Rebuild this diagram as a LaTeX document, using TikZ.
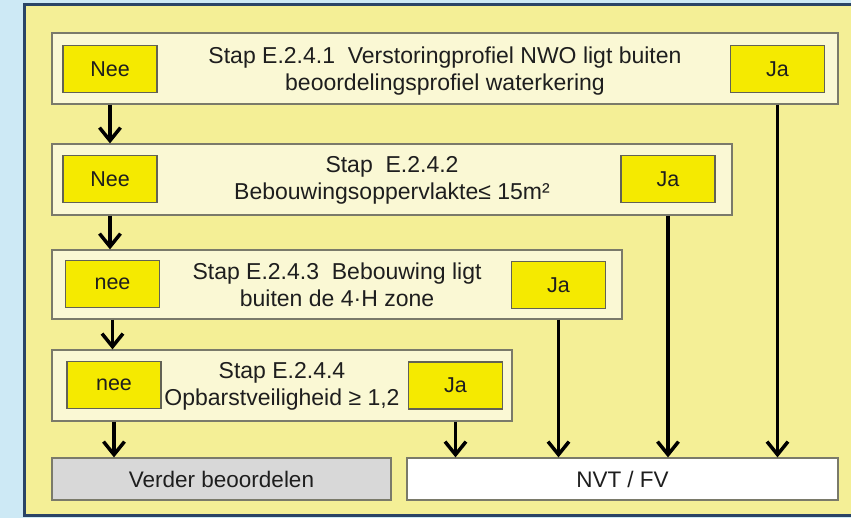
\documentclass[tikz,border=0pt]{standalone}
\usepackage{fontspec}
\setmainfont{Liberation Sans}
\usetikzlibrary{arrows.meta}
\definecolor{bgblue}{HTML}{CDE9F5}
\definecolor{frameblue}{HTML}{2A4466}
\definecolor{bgyellow}{HTML}{F4EF96}
\definecolor{cream}{HTML}{FAF8D4}
\definecolor{btnyellow}{HTML}{F5EA00}
\definecolor{boxgray}{HTML}{D8D8D8}
\definecolor{edgegray}{HTML}{7A7A6A}
\definecolor{txt}{HTML}{1E1E1E}
\tikzset{
  stepbox/.style={draw=edgegray, line width=1.2pt, fill=cream, minimum height=71pt, inner sep=0pt},
  steptext/.style={align=center, text=txt, font=\fontsize{23}{27}\selectfont, inner sep=0pt},
  btn/.style={draw=edgegray!80!black, line width=1.2pt, fill=btnyellow, minimum width=94pt,
    minimum height=47pt, text=txt, font=\fontsize{21.5}{24}\selectfont, inner sep=0pt},
  endbox/.style={draw=edgegray, line width=1.2pt, minimum height=42pt, text=txt,
    font=\fontsize{22.5}{26}\selectfont, inner sep=0pt},
  flow/.style={line width=3.5pt, black, -{Straight Barb[length=13pt,width=21pt,line width=3.5pt]}}
}
\begin{document}
\begin{tikzpicture}[x=1pt,y=-1pt]
\useasboundingbox (0,0) rectangle (851,518);
\fill[bgblue] (0,0) rectangle (851,518);
\filldraw[fill=bgyellow, draw=frameblue, line width=3pt] (24.5,4.5) rectangle (860,515.5);
% step boxes
\node[stepbox, minimum width=786pt] (box1) at (445,68.5) {};
\node[stepbox, minimum width=680pt] (box2) at (392,179.5) {};
\node[stepbox, minimum width=570pt, minimum height=69pt] (box3) at (337,284.5) {};
\node[stepbox, minimum width=460pt] (box4) at (282,385.5) {};
\node[steptext] (t1) at ([yshift=-2.5pt]box1.center) {Stap E.2.4.1\ \ Verstoringprofiel NWO ligt buiten\\beoordelingsprofiel waterkering};
\node[steptext] (t2) at ([yshift=-1pt]box2.center) {Stap\ \ E.2.4.2\\Bebouwingsoppervlakte≤ 15m²};
\node[steptext] (t3) at ([yshift=0pt]box3.center) {Stap E.2.4.3\ \ Bebouwing ligt\\buiten de 4·H zone};
\node[steptext] (t4) at ([yshift=-1pt]box4.center) {Stap E.2.4.4\\Opbarstveiligheid ≥ 1,2};
% buttons
\node[btn] (nee1) at (110,69) {Nee};
\node[btn] (ja1) at (777.5,69) {Ja};
\node[btn] (nee2) at (110,179) {Nee};
\node[btn] (ja2) at (668,179) {Ja};
\node[btn] (nee3) at (112.5,284) {nee};
\node[btn] (ja3) at (558.5,285) {Ja};
\node[btn] (nee4) at (114,385) {nee};
\node[btn] (ja4) at (455.5,385.5) {Ja};
% end boxes
\node[endbox, fill=boxgray, minimum width=339pt] (verder) at (221.5,479) {Verder beoordelen};
\node[endbox, fill=white, minimum width=431pt] (nvt) at (622.5,479) {NVT / FV};
% arrows nee
\draw[flow] (nee1 |- box1.south) -- (nee1 |- box2.north);
\draw[flow] (nee2 |- box2.south) -- (nee2 |- box3.north);
\draw[flow] (nee3 |- box3.south) -- (nee3 |- box4.north);
\draw[flow] (nee4 |- box4.south) -- (nee4 |- verder.north);
% arrows ja
\draw[flow] (ja1 |- box1.south) -- (ja1 |- nvt.north);
\draw[flow] (ja2 |- box2.south) -- (ja2 |- nvt.north);
\draw[flow] (ja3 |- box3.south) -- (ja3 |- nvt.north);
\draw[flow] (ja4 |- box4.south) -- (ja4 |- nvt.north);
\end{tikzpicture}
\end{document}
